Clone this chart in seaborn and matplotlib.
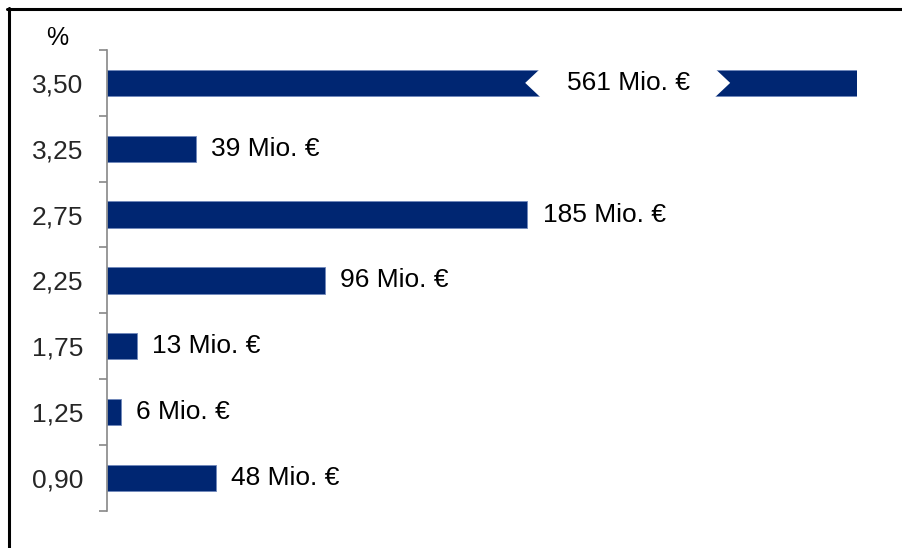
import numpy as np
import pandas as pd
import matplotlib
import seaborn as sns
matplotlib.use('Agg')
import matplotlib.pyplot as plt
from matplotlib.lines import Line2D
from matplotlib.patches import Polygon

rates = ['3,50', '3,25', '2,75', '2,25', '1,75', '1,25', '0,90']
volumes = [561, 39, 185, 96, 13, 6, 48]
labels = [f'{v} Mio. €' for v in volumes]

df = pd.DataFrame({'rate': rates, 'volume': volumes})

sns.set_style('white')
plt.rcParams['font.family'] = ['Liberation Sans', 'DejaVu Sans']

fig = plt.figure(figsize=(9.02, 5.48), dpi=100)
W, H = 902, 548
ax = fig.add_axes([107 / W, 1 - 510.7 / H, 750 / W, (510.7 - 50) / H])

bar_color = '#002672'
sns.barplot(data=df, x='volume', y='rate', orient='h', order=rates, color=bar_color,
            saturation=1, width=0.4, edgecolor='#7088bb', linewidth=0.6, ax=ax)

xmax = 330
ax.set_xlim(0, xmax)
ax.set_ylim(len(rates) - 0.5, -0.5)

# break on the truncated first bar
hh = 0.215
brk = Polygon([(190.6, -hh), (184.0, 0), (190.6, hh), (267.6, hh), (274.2, 0), (267.6, -hh)],
              closed=True, facecolor='white', edgecolor='none', zorder=5)
ax.add_patch(brk)
ax.text(229.3, 0, labels[0], ha='center', va='center', fontsize=19, color='black', zorder=6)

for i in range(1, len(volumes)):
    ax.annotate(labels[i], xy=(volumes[i], i), xytext=(11, 0), textcoords='offset points',
                ha='left', va='center', fontsize=19, color='black')

for s in ['top', 'right', 'bottom']:
    ax.spines[s].set_visible(False)
ax.spines['left'].set_color('#888888')
ax.spines['left'].set_linewidth(1.2)

ax.set_xticks([])
ax.set_xlabel('')
ax.set_ylabel('')
ax.set_yticks(range(len(rates)))
ax.set_yticklabels(rates, fontsize=19)
ax.tick_params(axis='y', which='major', left=True, length=0, pad=17)
ax.set_yticks(np.arange(-0.5, len(rates), 1), minor=True)
ax.tick_params(axis='y', which='minor', left=True, length=6, width=1.2,
               color='#888888', direction='out')

fig.text(57 / W, 1 - 38 / H, '%', ha='center', va='center', fontsize=18, color='black')

# frame lines (top and left)
fig.add_artist(Line2D([7 / W, 1], [1 - 9 / H, 1 - 9 / H], color='black', linewidth=2.2))
fig.add_artist(Line2D([8.5 / W, 8.5 / W], [0, 1 - 8 / H], color='black', linewidth=2.2))

plt.savefig('out.png', dpi=100)
